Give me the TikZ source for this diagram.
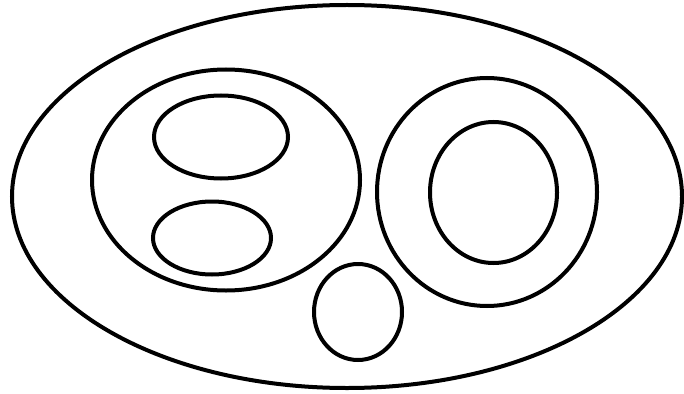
\documentclass[tikz,border=0pt]{standalone}
\usetikzlibrary{shapes.geometric}

\begin{document}
\begin{tikzpicture}[
      x=1pt, y=-1pt,
      set/.style={ellipse, draw, line width=4pt, inner sep=0pt}
    ]
    \useasboundingbox (0,0) rectangle (684,393);

    \node[set, minimum width=670pt, minimum height=383pt] (universe) at (347,196.5) {};

    \node[set, minimum width=268pt, minimum height=221pt] (left) at (226,180) {};
    \node[set, minimum width=134pt, minimum height=83pt] (lefttop) at (221,137) {};
    \node[set, minimum width=118pt, minimum height=73pt] (leftbottom) at (212,238) {};

    \node[set, minimum width=220pt, minimum height=228pt] (right) at (487,192) {};
    \node[set, minimum width=127pt, minimum height=141pt] (rightinner) at (493.5,192.5) {};

    \node[set, minimum width=88pt, minimum height=96pt] (bottom) at (358,312) {};
  \end{tikzpicture}
\end{document}
